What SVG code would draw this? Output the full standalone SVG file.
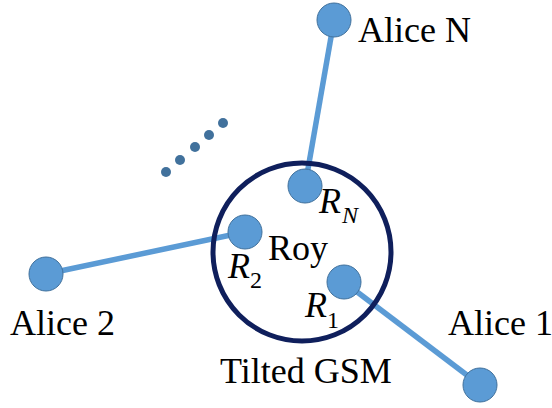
<svg xmlns="http://www.w3.org/2000/svg" width="552" height="408" viewBox="0 0 552 408">
<style>
.n{fill:#5b9bd5;stroke:#41719c;stroke-width:1}
.l{stroke:#5b9bd5;stroke-width:5.5;fill:none}
.t{font-family:"Times New Roman","Liberation Serif","Tinos","DejaVu Serif",serif;font-size:36px;fill:#000}
.i{font-style:italic}
.s{font-size:24px}
.d{fill:#41719c}
</style>
<rect width="552" height="408" fill="#fff"/>
<g id="connectors">
<line class="l" x1="334" y1="20" x2="305" y2="186"/>
<line class="l" x1="46" y1="274" x2="245" y2="232"/>
<line class="l" x1="344" y1="282" x2="480" y2="385"/>
</g>
<g id="gsm">
<circle cx="302" cy="252" r="89" fill="none" stroke="#0f1f5c" stroke-width="5"/>
<text class="t" x="220" y="383">Tilted GSM</text>
<text class="t" x="268" y="260">Roy</text>
</g>
<g id="dots">
<circle class="d" cx="166" cy="172" r="5"/>
<circle class="d" cx="180" cy="160" r="5"/>
<circle class="d" cx="195" cy="147" r="5"/>
<circle class="d" cx="209" cy="135" r="5"/>
<circle class="d" cx="223" cy="123" r="5"/>
</g>
<g id="aliceN">
<circle class="n" cx="334" cy="20" r="17"/>
<text class="t" x="358" y="42">Alice N</text>
</g>
<g id="alice2">
<circle class="n" cx="46" cy="274" r="17"/>
<text class="t" x="10" y="335">Alice 2</text>
</g>
<g id="alice1">
<circle class="n" cx="480" cy="385" r="17"/>
<text class="t" x="448" y="335">Alice 1</text>
</g>
<g id="RN">
<circle class="n" cx="305" cy="186" r="17"/>
<text class="t i" x="319" y="213">R</text>
<text class="t i s" x="342" y="223">N</text>
</g>
<g id="R2">
<circle class="n" cx="245" cy="232" r="17"/>
<text class="t i" x="228" y="278">R</text>
<text class="t s" x="250" y="288">2</text>
</g>
<g id="R1">
<circle class="n" cx="344" cy="282" r="17"/>
<text class="t i" x="305" y="317">R</text>
<text class="t s" x="327" y="328">1</text>
</g>
</svg>
